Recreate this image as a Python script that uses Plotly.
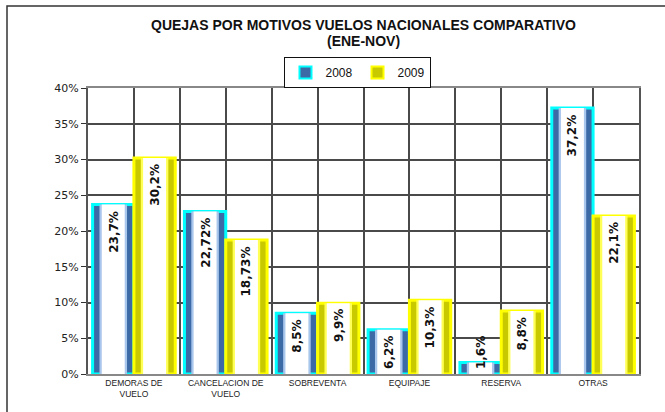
import plotly.graph_objects as go

categories = ["DEMORAS DE<br>VUELO", "CANCELACION DE<br>VUELO", "SOBREVENTA",
              "EQUIPAJE", "RESERVA", "OTRAS"]
series_names = ["2008", "2009"]
v2008 = [23.7, 22.72, 8.5, 6.2, 1.6, 37.2]
v2009 = [30.2, 18.73, 9.9, 10.3, 8.8, 22.1]
labels2008 = ["23,7%", "22,72%", "8,5%", "6,2%", "1,6%", "37,2%"]
labels2009 = ["30,2%", "18,73%", "9,9%", "10,3%", "8,8%", "22,1%"]
y_ticks = [0, 5, 10, 15, 20, 25, 30, 35, 40]
y_tick_labels = ["0%", "5%", "10%", "15%", "20%", "25%", "30%", "35%", "40%"]

x = list(range(len(categories)))
BW = 0.45  # bar width (category units)

styles = {
    "2008": dict(edge="#00ffff", side="#3c6aa6", light="#a9c6ec", start=-BW),
    "2009": dict(edge="#ffff00", side="#c9c900", light="#ffff55", start=0.0),
}

fig = go.Figure()
for name, vals in zip(series_names, [v2008, v2009]):
    s = styles[name]
    fig.add_trace(go.Bar(
        x=x, y=vals, name=name, width=BW, offset=s["start"],
        marker=dict(color=s["side"], line=dict(color=s["edge"], width=3)),
        showlegend=True, hoverinfo="skip"))
    for w, col in [(0.30, s["light"]), (0.25, "#ffffff")]:
        fig.add_trace(go.Bar(
            x=x, y=vals, width=w, offset=s["start"] + (BW - w) / 2,
            marker=dict(color=col, line=dict(width=0)),
            showlegend=False, hoverinfo="skip"))

annotations = []
for vals, labs, side in [(v2008, labels2008, -1), (v2009, labels2009, 1)]:
    for i, (v, t) in enumerate(zip(vals, labs)):
        small = v < 5
        annotations.append(dict(
            x=i + side * BW / 2, y=0 if small else v, xref="x", yref="y",
            text=t, textangle=-90, showarrow=False,
            xanchor="center", yanchor="bottom" if small else "top",
            yshift=3 if small else -4,
            font=dict(family="DejaVu Sans", size=12, color="#111111", weight="bold")))

annotations.append(dict(
    x=0.5, y=(374 - 25) / 286, xref="paper", yref="paper",
    text="<b>QUEJAS POR MOTIVOS VUELOS NACIONALES COMPARATIVO</b>",
    showarrow=False, xanchor="center", yanchor="middle",
    font=dict(family="Liberation Sans", size=14, color="#111111")))
annotations.append(dict(
    x=0.5, y=(374 - 41) / 286, xref="paper", yref="paper",
    text="<b>(ENE-NOV)</b>",
    showarrow=False, xanchor="center", yanchor="middle",
    font=dict(family="Liberation Sans", size=14, color="#111111")))

fig.update_layout(
    width=665, height=412,
    margin=dict(l=88, r=26, t=88, b=38),
    paper_bgcolor="white", plot_bgcolor="white",
    barmode="overlay",
    annotations=annotations,
    legend=dict(orientation="h", x=0.49, xanchor="center",
                y=1 + 31 / 286, yanchor="top",
                bordercolor="#111111", borderwidth=1,
                font=dict(family="Liberation Sans", size=12, color="#111111"),
                itemwidth=30, tracegroupgap=0, itemsizing="constant"),
    shapes=[dict(type="rect", xref="paper", yref="paper",
                 x0=(7 - 88) / 551, x1=(680 - 88) / 551,
                 y0=(374 - 430) / 286, y1=(374 - 6) / 286,
                 line=dict(color="#333333", width=1.5), layer="below")],
    xaxis=dict(range=[-0.5, len(categories) - 0.5],
               tickmode="array", tickvals=x, ticktext=categories,
               showgrid=True, gridcolor="#4a4a4a", gridwidth=2,
               minor=dict(tickmode="array",
                          tickvals=[i - 0.5 for i in range(len(categories) + 1)],
                          showgrid=True, gridcolor="#4a4a4a", gridwidth=2),
               showline=True, linecolor="#888888", linewidth=2, mirror=True,
               ticks="", zeroline=False,
               tickfont=dict(family="Liberation Sans", size=8.5, color="#222222")),
    yaxis=dict(range=[0, 40], tickmode="array", tickvals=y_ticks,
               ticktext=y_tick_labels,
               showgrid=True, gridcolor="#4a4a4a", gridwidth=2,
               showline=True, linecolor="#555555", linewidth=2, mirror=True,
               ticks="outside", ticklen=5, tickcolor="#333333", zeroline=False,
               tickfont=dict(family="DejaVu Sans", size=11, color="#222222")),
)

fig.write_html("out.html",
               config={"displayModeBar": False},
               post_script="document.body.style.margin='0px';")
